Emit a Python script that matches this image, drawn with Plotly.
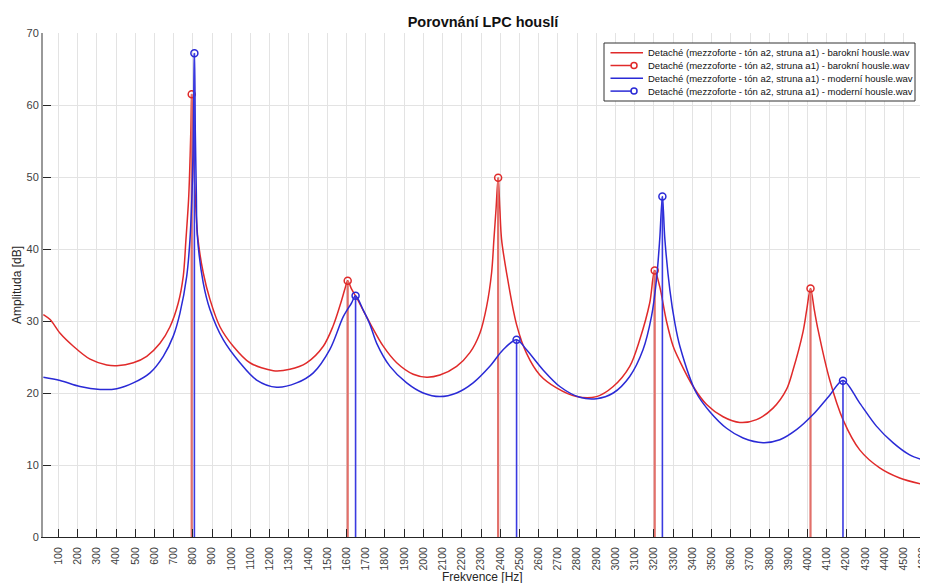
import plotly.graph_objects as go

# ---- data ----
red_f = [22, 57, 109, 178, 265, 352, 404, 490, 560, 629, 681, 724, 750, 764, 778, 786, 791, 795,
         799, 805, 815, 826, 854, 889, 941, 1010, 1097, 1219, 1305, 1392, 1479, 1530, 1570, 1592,
         1606, 1625, 1653, 1690, 1722, 1791, 1861, 1947, 2017, 2086, 2173, 2242, 2294, 2329, 2355,
         2367, 2378, 2389, 2398, 2407, 2433, 2485, 2537, 2606, 2693, 2797, 2901, 2988, 3074, 3126,
         3178, 3204, 3230, 3265, 3300, 3335, 3404, 3474, 3560, 3647, 3734, 3820, 3890, 3924, 3976,
         3995, 4015, 4035, 4054, 4115, 4184, 4271, 4375, 4479, 4600]
red_db = [30.9, 30.2, 28.3, 26.5, 24.7, 23.9, 23.8, 24.2, 25.1, 26.9, 29.2, 32.5, 36.2, 41.3, 47.0,
          53.0, 58.0, 61.5, 58.0, 52.0, 46.0, 41.5, 36.7, 33.0, 29.2, 26.5, 24.2, 23.1, 23.3, 24.2,
          26.5, 29.3, 32.5, 34.5, 35.6, 34.5, 33.2, 31.3, 29.7, 26.5, 24.2, 22.6, 22.2, 22.5, 23.7,
          25.6, 28.3, 32.0, 36.7, 41.3, 45.5, 49.9, 45.5, 41.3, 36.7, 29.5, 25.5, 22.5, 20.7, 19.5,
          19.5, 20.9, 23.7, 27.4, 32.5, 37.0, 34.8, 30.0, 26.5, 24.4, 20.9, 18.4, 16.7, 15.9, 16.3,
          17.9, 20.5, 23.2, 28.5, 31.5, 34.5, 31.5, 28.8, 21.8, 16.3, 12.1, 9.6, 8.2, 7.3]

blue_f = [22, 109, 213, 317, 404, 490, 577, 646, 698, 733, 768, 785, 796, 802, 808, 813, 818, 823,
          854, 889, 958, 1045, 1132, 1236, 1340, 1427, 1514, 1583, 1626, 1647, 1687, 1722, 1757,
          1826, 1913, 1999, 2086, 2173, 2259, 2346, 2415, 2485, 2537, 2623, 2710, 2814, 2901, 2988,
          3074, 3143, 3187, 3213, 3230, 3244, 3257, 3283, 3309, 3335, 3421, 3491, 3578, 3664, 3768,
          3855, 3942, 4028, 4115, 4184, 4271, 4358, 4444, 4531, 4600]
blue_db = [22.2, 21.75, 20.9, 20.5, 20.6, 21.4, 22.8, 25.1, 27.9, 31.1, 36.2, 41.3, 48.0, 55.0, 67.2,
           56.0, 48.0, 42.0, 35.3, 31.6, 27.4, 24.2, 21.8, 20.8, 21.4, 22.8, 26.1, 30.6, 32.5, 33.5,
           31.5, 29.5, 26.9, 23.7, 21.4, 20.0, 19.5, 20.0, 21.4, 23.7, 26.0, 27.4, 26.0, 23.2, 20.9,
           19.4, 19.2, 20.0, 22.3, 26.0, 30.6, 35.7, 41.3, 47.3, 41.3, 34.3, 29.7, 26.5, 20.0, 17.4,
           15.1, 13.75, 13.1, 13.5, 14.9, 17.0, 19.7, 21.75, 18.6, 15.4, 13.1, 11.4, 10.7]

red_peak_f = [794, 1606, 2389, 3204, 4015]
red_peak_db = [61.5, 35.6, 49.9, 37.0, 34.5]
blue_peak_f = [808, 1647, 2485, 3244, 4184]
blue_peak_db = [67.2, 33.5, 27.4, 47.3, 21.7]

x_ticks = list(range(100, 4601, 100))
y_ticks = [0, 10, 20, 30, 40, 50, 60, 70]

name_red = "Detaché (mezzoforte - tón a2, struna a1) - barokní housle.wav"
name_blue = "Detaché (mezzoforte - tón a2, struna a1) - moderní housle.wav"
legend_names = [name_red, name_red, name_blue, name_blue]

RED = "#e02a2a"
BLUE = "#2a2ad6"
RED_STEM = "#e2706a"
BLUE_STEM = "#3a3ae0"
FONT = "Liberation Sans, Arial, sans-serif"

# layout geometry (window pixels); the page body adds an 8px offset
OFF = 8
PL, PR, PT, PB = 43, 923, 33, 537
W, H = 928 - OFF, 583 - OFF


def px_x(p):
    return (p - PL) / (PR - PL)


def px_y(p):
    return (PB - p) / (PB - PT)


def stem_xy(fs, vals):
    xs, ys = [], []
    for f, v in zip(fs, vals):
        xs += [f, f, None]
        ys += [0, v, None]
    return xs, ys


fig = go.Figure()

fig.add_trace(go.Scatter(x=red_f, y=red_db, mode="lines", name=name_red, showlegend=False,
                         line=dict(color=RED, width=1.5, shape="spline", smoothing=0.9)))
sx, sy = stem_xy(red_peak_f, red_peak_db)
fig.add_trace(go.Scatter(x=sx, y=sy, mode="lines", showlegend=False, hoverinfo="skip",
                         line=dict(color=RED_STEM, width=2.2)))
fig.add_trace(go.Scatter(x=red_peak_f, y=red_peak_db, mode="markers", name=name_red, showlegend=False,
                         marker=dict(symbol="circle-open", size=7, color=RED, line=dict(width=1.5))))

fig.add_trace(go.Scatter(x=blue_f, y=blue_db, mode="lines", name=name_blue, showlegend=False,
                         line=dict(color=BLUE, width=1.5, shape="spline", smoothing=0.9)))
sx, sy = stem_xy(blue_peak_f, blue_peak_db)
fig.add_trace(go.Scatter(x=sx, y=sy, mode="lines", showlegend=False, hoverinfo="skip",
                         line=dict(color=BLUE_STEM, width=1.6)))
fig.add_trace(go.Scatter(x=blue_peak_f, y=blue_peak_db, mode="markers", name=name_blue, showlegend=False,
                         marker=dict(symbol="circle-open", size=7, color=BLUE, line=dict(width=1.5))))

# ---- compact legend box (MATLAB style) ----
shapes = [dict(type="rect", xref="paper", yref="paper", layer="above",
               x0=px_x(604), x1=px_x(915), y0=px_y(101), y1=px_y(43),
               fillcolor="white", line=dict(color="#333333", width=1))]
annotations = []
row_cols = [RED, RED, BLUE, BLUE]
row_marker = [False, True, False, True]
for i, (nm, col, mk) in enumerate(zip(legend_names, row_cols, row_marker)):
    cy = 52.7 + 12.8 * i
    x_end = 631.5 if mk else 643
    shapes.append(dict(type="line", xref="paper", yref="paper", layer="above",
                       x0=px_x(610.5), x1=px_x(x_end), y0=px_y(cy), y1=px_y(cy),
                       line=dict(color=col, width=1.5)))
    if mk:
        r = 3.0
        shapes.append(dict(type="circle", xref="paper", yref="paper", layer="above",
                           x0=px_x(634 - r), x1=px_x(634 + r), y0=px_y(cy + r), y1=px_y(cy - r),
                           line=dict(color=col, width=1.5), fillcolor="rgba(0,0,0,0)"))
    annotations.append(dict(text=nm, xref="paper", yref="paper", x=px_x(646), y=px_y(cy),
                            xanchor="left", yanchor="middle", showarrow=False,
                            font=dict(family=FONT, size=9.5, color="#111111")))

# axis titles
annotations.append(dict(text="Frekvence [Hz]", xref="paper", yref="paper", x=px_x(482), y=px_y(577),
                        xanchor="center", yanchor="middle", showarrow=False,
                        font=dict(family=FONT, size=12, color="#262626")))
annotations.append(dict(text="Amplituda [dB]", xref="paper", yref="paper", x=px_x(17), y=0.5,
                        xanchor="center", yanchor="middle", textangle=-90, showarrow=False,
                        font=dict(family=FONT, size=12, color="#262626")))

fig.update_layout(
    width=W, height=H,
    margin=dict(l=PL - OFF, r=928 - PR, t=PT - OFF, b=H - (PB - OFF)),
    paper_bgcolor="white", plot_bgcolor="white",
    font=dict(family=FONT, size=11, color="#404040"),
    title=dict(text="<b>Porovnání LPC houslí</b>", xref="paper", x=px_x(483), xanchor="center",
               yref="container", y=1 - (22 - OFF) / H, yanchor="middle",
               font=dict(family=FONT, size=14.5, color="#111111")),
    showlegend=False,
    shapes=shapes,
    annotations=annotations,
    xaxis=dict(range=[20, 4600.5], tickvals=x_ticks, ticktext=[str(v) for v in x_ticks],
               tickangle=-90, ticks="inside", ticklen=8, tickcolor="#262626", tickwidth=1,
               ticklabelstandoff=5, ticklabeloverflow="allow", automargin=False,
               showgrid=True, gridcolor="#e3e3e3", gridwidth=1, zeroline=False,
               showline=True, linecolor="#262626", linewidth=1, mirror=False,
               tickfont=dict(family=FONT, size=10.5, color="#404040")),
    yaxis=dict(range=[0, 70], tickvals=y_ticks, ticks="inside", ticklen=8, tickcolor="#262626",
               automargin=False,
               showgrid=True, gridcolor="#e3e3e3", gridwidth=1, zeroline=False,
               showline=True, linecolor="#999999", linewidth=2, mirror=False,
               tickfont=dict(family=FONT, size=11, color="#404040")),
)

fig.write_html("out.html")
